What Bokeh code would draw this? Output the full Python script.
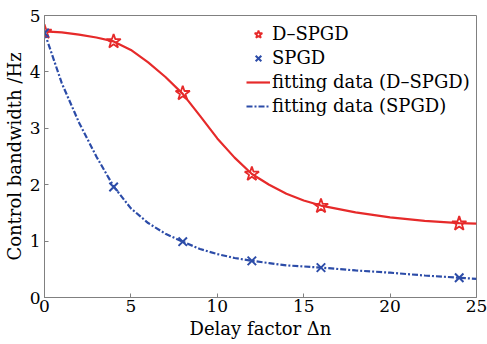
from bokeh.plotting import figure
from bokeh.models import Range1d, Legend, LegendItem, FixedTicker
from bokeh.embed import file_html
from bokeh.resources import INLINE

# measured data
delay = [0, 4, 8, 12, 16, 24]
dspgd = [4.71, 4.54, 3.62, 2.19, 1.62, 1.31]
spgd = [4.69, 1.96, 0.99, 0.65, 0.53, 0.35]

# fitting curves
fit_x = [0, 1, 2, 3, 4, 5, 6, 7, 8, 9, 10, 11, 12, 13, 14, 15, 16, 18, 20, 22, 24, 25]
fit_dspgd = [4.72, 4.70, 4.66, 4.61, 4.54, 4.39, 4.17, 3.91, 3.61, 3.22, 2.82, 2.48, 2.19,
             2.00, 1.84, 1.72, 1.63, 1.51, 1.42, 1.36, 1.32, 1.31]
fit_spgd = [4.70, 3.80, 3.10, 2.50, 1.97, 1.58, 1.32, 1.13, 0.99, 0.86, 0.77, 0.70, 0.65,
            0.61, 0.57, 0.55, 0.53, 0.48, 0.44, 0.39, 0.35, 0.33]

x_ticks = [0, 5, 10, 15, 20, 25]
y_ticks = [0, 1, 2, 3, 4, 5]

RED = "#e62a2a"
BLUE = "#2c4ca8"
FONT = "DejaVu Serif"

p = figure(width=487, height=344, output_backend="svg", toolbar_location=None,
           x_range=Range1d(0, 25), y_range=Range1d(0, 5),
           min_border_left=41, min_border_right=11, min_border_top=15, min_border_bottom=47)
p.background_fill_color = "white"
p.border_fill_color = "white"
p.outline_line_color = "#808080"
p.outline_line_width = 1
p.grid.visible = False

for ax in (p.xaxis[0], p.yaxis[0]):
    ax.axis_line_color = "#808080"
    ax.major_tick_line_color = "#808080"
    ax.major_tick_in = 4
    ax.major_tick_out = 0
    ax.minor_tick_line_color = None
    ax.major_label_text_font = FONT
    ax.major_label_text_font_size = "17px"
    ax.major_label_text_color = "black"
    ax.axis_label_text_font = FONT
    ax.axis_label_text_font_size = "18px"
    ax.axis_label_text_font_style = "normal"
    ax.axis_label_text_color = "black"

p.xaxis.ticker = FixedTicker(ticks=x_ticks)
p.yaxis.ticker = FixedTicker(ticks=y_ticks)
p.xaxis.axis_label = "Delay factor Δn"
p.yaxis.axis_label = "Control bandwidth /Hz"
p.xaxis.major_label_standoff = 2
p.xaxis.axis_label_standoff = 3
p.yaxis.major_label_standoff = 4
p.yaxis.axis_label_standoff = 2

l1 = p.line(fit_x, fit_dspgd, line_color=RED, line_width=2.2)
l2 = p.line(fit_x, fit_spgd, line_color=BLUE, line_width=2.2, line_dash="6 2 2 2")
s1 = p.scatter(delay, dspgd, marker="star", size=15, fill_color=None, line_color=RED, line_width=1.8)
s2 = p.scatter(delay, spgd, marker="x", size=12, line_color=BLUE, line_width=2)

legend = Legend(items=[
    LegendItem(label="D\u2013SPGD", renderers=[s1]),
    LegendItem(label="SPGD", renderers=[s2]),
    LegendItem(label="fitting data (D\u2013SPGD)", renderers=[l1]),
    LegendItem(label="fitting data (SPGD)", renderers=[l2]),
], location=(202, 181))
legend.label_text_font = FONT
legend.label_text_font_size = "18px"
legend.label_text_color = "black"
legend.border_line_color = None
legend.background_fill_alpha = 0
legend.glyph_width = 24
legend.glyph_height = 20
legend.label_height = 20
legend.label_standoff = 2
legend.spacing = 3
legend.padding = 4
legend.margin = 0
p.add_layout(legend)

open("out.html", "w").write(file_html(p, INLINE))
